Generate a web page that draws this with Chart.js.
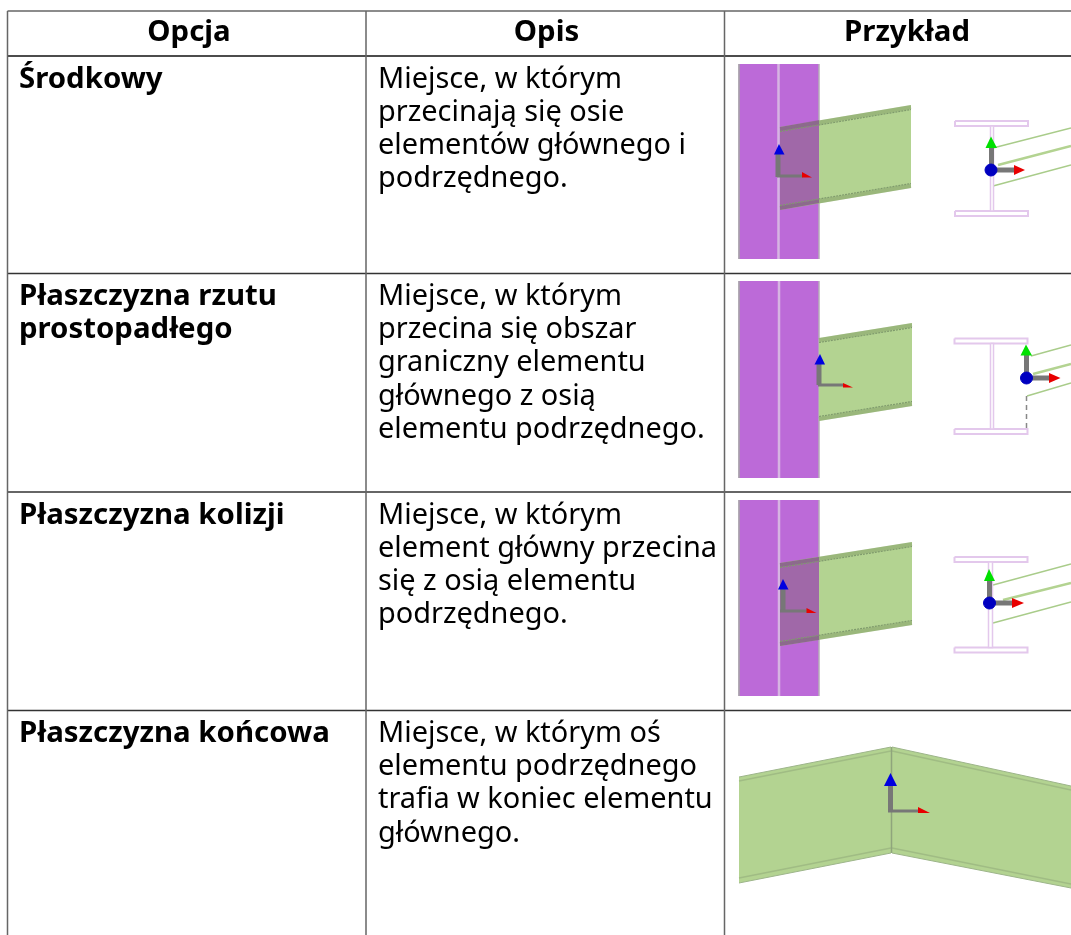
<!DOCTYPE html>
<html>
<head>
<meta charset="utf-8">
<title>Opcje</title>
<style>
  html, body { margin: 0; padding: 0; background: #fff; }
  #wrap { width: 1071px; height: 935px; }
</style>
<script src="https://cdn.jsdelivr.net/npm/chart.js@4"></script>
</head>
<body>
<div id="wrap"><canvas id="chart" width="1071" height="935"></canvas></div>
<script>
// Table text
const headers = ['Opcja', 'Opis', 'Przykład'];
const optionLines = [
    ['Środkowy'],
    ['Płaszczyzna rzutu', 'prostopadłego'],
    ['Płaszczyzna kolizji'],
    ['Płaszczyzna końcowa'],
];
const descriptionLines = [
    ['Miejsce, w którym', 'przecinają się osie', 'elementów głównego i', 'podrzędnego.'],
    ['Miejsce, w którym', 'przecina się obszar', 'graniczny elementu', 'głównego z osią', 'elementu podrzędnego.'],
    ['Miejsce, w którym', 'element główny przecina', 'się z osią elementu', 'podrzędnego.'],
    ['Miejsce, w którym oś', 'elementu podrzędnego', 'trafia w koniec elementu', 'głównego.'],
];

// Table grid
const columnRules = [7.5, 366, 724.5];
const rowRules = [56, 273.5, 492, 710.5];
const tableTop = 11;

// Row 1 drawing
const column1 = [[739, 64], [819, 64], [819, 259], [739, 259]];
const beam1 = [[780, 127], [911, 105], [911, 188], [780, 210]];
const overlap1 = [[780, 127], [819, 120], [819, 203], [780, 210]];
const band1 = [[[780, 129], [911, 107]], [[780, 208], [911, 186]]];
const flange1 = [[[780, 131.5], [911, 109.5]], [[780, 205.5], [911, 183.5]]];
const axisUp1 = [[778, 177], [778, 153]];
const axisRight1 = [[777, 176], [803, 176]];
const arrowUp1 = [[779, 144], [784.5, 154.5], [774, 154.5]];
const arrowRight1 = [[802, 172], [812, 177.5], [802, 177.5]];
const section1 = { top: [[955, 121], [1028, 121], [1028, 126], [955, 126]], bottom: [[955, 211], [1028, 211], [1028, 216], [955, 216]], web: [[990.5, 126], [993.5, 126], [993.5, 211], [990.5, 211]] };
const sectionLines1 = [[[993, 148], [1071, 128]], [[993, 186], [1071, 165]]];
const sectionMid1 = [[998, 165], [1071, 146]];
const secUp1 = [[991.5, 170], [991.5, 147]];
const secRight1 = [[991, 170], [1015, 170]];
const secArrowUp1 = [[991, 136.5], [997, 148], [985.5, 148]];
const secArrowRight1 = [[1014, 165], [1025, 170], [1014, 175]];
const secDot1 = [[991, 170]];

// Row 2 drawing
const column2 = [[739, 281], [819, 281], [819, 478], [739, 478]];
const beam2 = [[819, 338], [912, 323], [912, 406], [819, 421]];
const band2 = [[[819, 340], [912, 325]], [[819, 419], [912, 404]]];
const flange2 = [[[819, 342.5], [912, 327.5]], [[819, 416.5], [912, 401.5]]];
const axisUp2 = [[819, 385], [819, 364]];
const axisRight2 = [[818, 385], [843, 385]];
const arrowUp2 = [[820, 354], [825, 364.5], [814.5, 364.5]];
const arrowRight2 = [[843, 383], [853, 387.5], [843, 387.5]];
const section2 = { top: [[954.5, 338.5], [1027.5, 338.5], [1027.5, 343.5], [954.5, 343.5]], bottom: [[954.5, 429], [1027.5, 429], [1027.5, 434], [954.5, 434]], web: [[990.5, 343.5], [993.5, 343.5], [993.5, 429], [990.5, 429]] };
const sectionLines2 = [[[1031, 356], [1071, 345]], [[1027, 396], [1071, 383]]];
const sectionMid2 = [[1033, 374], [1071, 364]];
const secDash2 = [[1026.5, 396], [1026.5, 429]];
const secUp2 = [[1026.5, 378], [1026.5, 355]];
const secRight2 = [[1026, 378], [1050, 378]];
const secArrowUp2 = [[1026, 344.5], [1032, 355.5], [1020.5, 355.5]];
const secArrowRight2 = [[1049, 373], [1060.5, 378], [1049, 383]];
const secDot2 = [[1026.5, 378]];

// Row 3 drawing
const column3 = [[739, 500], [819, 500], [819, 696], [739, 696]];
const beam3 = [[780, 563], [912, 542], [912, 625], [780, 646]];
const overlap3 = [[780, 563], [819, 557], [819, 640], [780, 646]];
const band3 = [[[780, 565], [912, 544]], [[780, 644], [912, 623]]];
const flange3 = [[[780, 567.5], [912, 546.5]], [[780, 641.5], [912, 620.5]]];
const axisUp3 = [[783, 612], [783, 589]];
const axisRight3 = [[780, 611], [807, 611]];
const arrowUp3 = [[783, 579], [788.5, 589.5], [778, 589.5]];
const arrowRight3 = [[806.5, 608], [816.5, 613], [806.5, 613]];
const section3 = { top: [[954.5, 557], [1027.5, 557], [1027.5, 562], [954.5, 562]], bottom: [[954.5, 647.5], [1027.5, 647.5], [1027.5, 652.5], [954.5, 652.5]], web: [[988.5, 562], [992.5, 562], [992.5, 647.5], [988.5, 647.5]] };
const sectionLines3 = [[[993, 585], [1071, 564]], [[993, 623], [1071, 602]]];
const sectionMid3 = [[1003, 600], [1071, 583]];
const secUp3 = [[989.5, 603], [989.5, 580]];
const secRight3 = [[989, 603], [1013, 603]];
const secArrowUp3 = [[989, 569], [995, 581], [984, 581]];
const secArrowRight3 = [[1012, 598], [1024, 603], [1012, 608]];
const secDot3 = [[989.5, 603]];

// Row 4 drawing
const beam4Left = [[739, 777], [891, 747], [891, 853], [739, 883]];
const beam4Right = [[892, 747], [1071, 786], [1071, 888], [892, 853]];
const flange4 = [[[739, 781], [891, 751]], [[739, 878], [891, 848]], [[892, 751], [1071, 790]], [[892, 848], [1071, 884]]];
const seam4 = [[891.5, 747], [891.5, 853]];
const axisUp4 = [[890.5, 812], [890.5, 786]];
const axisRight4 = [[888, 811], [919, 811]];
const arrowUp4 = [[890.5, 773], [897, 786], [884, 786]];
const arrowRight4 = [[918, 807], [930, 813], [918, 813]];

const PURPLE = '#bc6ad8';
const OVERLAP = '#a068a8';
const GREEN = '#b3d391';
const FLANGE = '#7f9a6c';
const BAND = 'rgba(90, 110, 70, 0.28)';
const SECTION = '#e3c8ec';
const GREY = '#777777';

const toPoints = coords => coords.map(([x, y]) => ({ x, y }));

const datasets = [];

const addShape = (coords, fillColor, edge = 'transparent', edgeWidth = 1) => {
    datasets.push({
        data: toPoints([...coords, coords[0]]),
        showLine: true,
        fill: 'shape',
        backgroundColor: fillColor,
        borderColor: edge,
        borderWidth: edgeWidth,
        pointRadius: 0,
        tension: 0,
    });
};

const addLine = (coords, color, width, dash = []) => {
    datasets.push({
        data: toPoints(coords),
        showLine: true,
        fill: false,
        borderColor: color,
        borderWidth: width,
        borderDash: dash,
        borderCapStyle: 'butt',
        pointRadius: 0,
        tension: 0,
    });
};

const addDot = (coords, color, radius) => {
    datasets.push({
        data: toPoints(coords),
        showLine: false,
        backgroundColor: color,
        borderColor: color,
        pointRadius: radius,
    });
};

const addColumn = (coords, stripeX) => {
    addShape(coords, PURPLE);
    addLine([coords[0], coords[3]], '#a79fab', 1);
    addLine([coords[1], coords[2]], '#b5adb8', 1.5);
    addLine([[stripeX, coords[0][1]], [stripeX, coords[3][1]]], '#d6b5e2', 2.5);
};

const addFlanges = (bands, lines) => {
    bands.forEach(l => addLine(l, BAND, 4));
    lines.forEach(l => addLine(l, FLANGE, 1.2, [2, 1]));
};

const addTriad = (up, right, arrowUp, arrowRight) => {
    addLine(up, GREY, 5);
    addLine(right, GREY, 3);
    addShape(arrowUp, '#0000e0');
    addShape(arrowRight, '#e80000');
};

const addSection = (section, lines, mid) => {
    lines.forEach(l => addLine(l, '#a9cc8a', 1.5));
    addLine(mid, '#b3d391', 2.5);
    addShape(section.top, '#ffffff', SECTION, 2);
    addShape(section.bottom, '#ffffff', SECTION, 2);
    addShape(section.web, '#ffffff', SECTION, 1.5);
};

const addSectionAxes = (up, right, arrowUp, arrowRight, dot) => {
    addLine(up, GREY, 5);
    addLine(right, GREY, 5);
    addShape(arrowUp, '#00e000');
    addShape(arrowRight, '#e80000');
    addDot(dot, '#0000c0', 6);
};

// Row 1
addColumn(column1, 778.5);
addShape(beam1, GREEN);
addShape(overlap1, OVERLAP);
addFlanges(band1, flange1);
addTriad(axisUp1, axisRight1, arrowUp1, arrowRight1);
addSection(section1, sectionLines1, sectionMid1);
addSectionAxes(secUp1, secRight1, secArrowUp1, secArrowRight1, secDot1);

// Row 2
addColumn(column2, 779);
addShape(beam2, GREEN);
addFlanges(band2, flange2);
addTriad(axisUp2, axisRight2, arrowUp2, arrowRight2);
addSection(section2, sectionLines2, sectionMid2);
addLine(secDash2, '#888888', 1.5, [5, 4]);
addSectionAxes(secUp2, secRight2, secArrowUp2, secArrowRight2, secDot2);

// Row 3
addColumn(column3, 779);
addShape(beam3, GREEN);
addShape(overlap3, OVERLAP);
addFlanges(band3, flange3);
addTriad(axisUp3, axisRight3, arrowUp3, arrowRight3);
addSection(section3, sectionLines3, sectionMid3);
addSectionAxes(secUp3, secRight3, secArrowUp3, secArrowRight3, secDot3);

// Row 4
addShape(beam4Left, GREEN);
addShape(beam4Right, GREEN);
flange4.forEach(l => addLine(l, '#a0bc84', 1.5));
addLine(beam4Left.slice(0, 2), '#9db58a', 1);
addLine(beam4Left.slice(2, 4), '#9db58a', 1);
addLine(beam4Right.slice(0, 2), '#9db58a', 1);
addLine(beam4Right.slice(2, 4), '#9db58a', 1);
addLine(seam4, '#8fa57c', 1.5);
addTriad(axisUp4, axisRight4, arrowUp4, arrowRight4);

// Table rules go on top of the drawings
addLine([[columnRules[0], tableTop], [1071, tableTop]], '#666666', 1.5);
rowRules.forEach((y, i) => addLine([[columnRules[0], y], [1071, y]], i === 0 ? '#111111' : '#333333', 1.5));
columnRules.forEach(x => addLine([[x, tableTop], [x, 935]], '#666666', 1.5));

// later datasets paint over earlier ones
datasets.forEach((d, i) => { d.order = -i; });

const tableText = {
    id: 'tableText',
    afterDatasetsDraw(chart) {
        const { ctx, scales: { x, y } } = chart;
        ctx.save();
        ctx.fillStyle = '#000';
        ctx.textBaseline = 'alphabetic';

        const headerCentres = [189, 546.5, 907];
        ctx.font = 'bold 29.4px "Noto Sans"';
        ctx.textAlign = 'center';
        headers.forEach((h, i) => ctx.fillText(h, x.getPixelForValue(headerCentres[i]), y.getPixelForValue(41)));

        ctx.textAlign = 'left';
        optionLines.forEach((lines, r) => {
            lines.forEach((t, i) => ctx.fillText(t, x.getPixelForValue(19), y.getPixelForValue(rowRules[r] + 31.5 + i * 33.2)));
        });

        ctx.font = '28.9px "Noto Sans"';
        descriptionLines.forEach((lines, r) => {
            lines.forEach((t, i) => ctx.fillText(t, x.getPixelForValue(378), y.getPixelForValue(rowRules[r] + 31.5 + i * 33.2)));
        });
        ctx.restore();
    },
};

new Chart(document.getElementById('chart').getContext('2d'), {
    type: 'scatter',
    data: { datasets },
    options: {
        responsive: false,
        animation: false,
        layout: { padding: 0, autoPadding: false },
        plugins: { legend: { display: false }, tooltip: { enabled: false }, title: { display: false } },
        scales: {
            x: { type: 'linear', min: 0, max: 1071, display: false },
            y: { type: 'linear', min: 0, max: 935, reverse: true, display: false },
        },
    },
    plugins: [tableText],
});
</script>
</body>
</html>
